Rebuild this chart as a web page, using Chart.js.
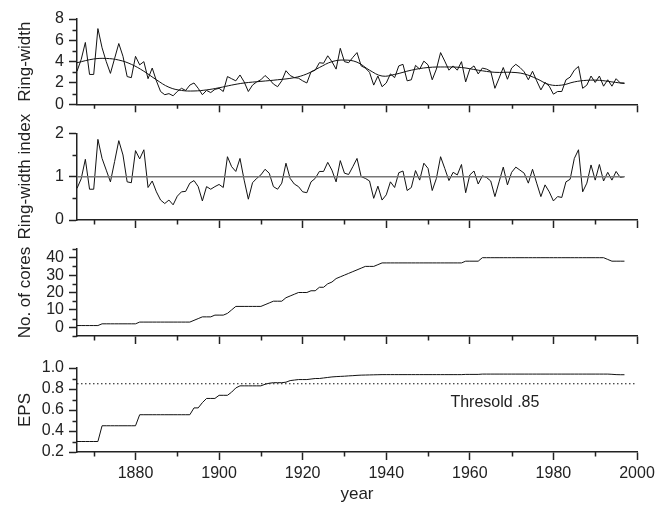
<!DOCTYPE html>
<html>
<head>
<meta charset="utf-8">
<script src="https://cdn.jsdelivr.net/npm/chart.js@4"></script>
<style>
  body { margin: 0; background: #fff; }
  #wrap { position: relative; width: 667px; height: 507px; }
  canvas { position: absolute; left: 0; top: 0; }
</style>
</head>
<body>
<div id="wrap">
  <canvas id="c1" width="667" height="507"></canvas>
  <canvas id="c2" width="667" height="507"></canvas>
  <canvas id="c3" width="667" height="507"></canvas>
  <canvas id="c4" width="667" height="507"></canvas>
</div>
<script>
const firstYear = 1866

// raw ring width, one value per year from 1866
const ringWidth = [
  3.1, 4.2, 5.8, 2.8, 2.8, 7.1, 5.3, 4.0, 2.9, 4.3,      // 1866-1875
  5.7, 4.5, 2.6, 2.5, 4.5, 3.7, 4.0, 2.4, 3.4, 2.2,      // 1876-1885
  1.2, 0.9, 1.0, 0.8, 1.2, 1.5, 1.3, 1.8, 2.0, 1.5,      // 1886-1895
  0.9, 1.3, 1.1, 1.4, 1.5, 1.2, 2.6, 2.4, 2.2, 2.75,     // 1896-1905
  2.1, 1.2, 1.8, 2.1, 2.3, 2.7, 2.35, 1.9, 1.65, 2.2,    // 1906-1915
  3.15, 2.7, 2.5, 2.45, 2.2, 2.0, 3.05, 3.2, 3.9, 3.85,  // 1916-1925
  4.55, 4.0, 3.3, 5.25, 4.0, 3.9, 4.4, 4.85, 3.6, 3.4,   // 1926-1935
  3.0, 1.8, 2.65, 1.65, 2.0, 2.85, 2.5, 3.6, 3.75, 2.2,  // 1936-1945
  2.3, 3.65, 3.3, 4.05, 3.7, 2.3, 3.3, 4.85, 4.05, 3.2,  // 1946-1955
  3.6, 3.2, 4.0, 2.1, 3.3, 3.6, 2.85, 3.4, 3.3, 3.1,     // 1956-1965
  1.5, 2.45, 3.45, 2.35, 3.4, 3.75, 3.45, 3.05, 2.3, 3.1, // 1966-1975
  2.2, 1.35, 2.05, 1.7, 0.95, 1.2, 1.2, 2.3, 2.55, 3.2,  // 1976-1985
  3.55, 1.5, 1.8, 2.65, 2.05, 2.65, 1.7, 2.3, 1.7, 2.4,  // 1986-1995
  2.0, 2.0                                               // 1996-1997
]

// fitted growth curve, read at a few years
const smoothYears = [1866, 1870, 1873, 1876, 1879, 1882, 1885, 1888, 1891, 1894, 1897, 1900,
  1903, 1906, 1910, 1914, 1918, 1921, 1924, 1927, 1930, 1933, 1936, 1939, 1942, 1946, 1950,
  1954, 1958, 1962, 1966, 1970, 1973, 1976, 1979, 1982, 1985, 1988, 1991, 1994, 1997]
const smoothValues = [3.9, 4.25, 4.3, 4.15, 3.75, 3.1, 2.3, 1.6, 1.3, 1.25, 1.35, 1.55,
  1.8, 2.0, 2.15, 2.3, 2.5, 2.85, 3.45, 4.0, 4.15, 3.95, 3.2, 2.65, 2.8, 3.2, 3.45,
  3.5, 3.45, 3.2, 3.0, 3.0, 2.85, 2.4, 1.85, 1.8, 2.1, 2.25, 2.25, 2.1, 1.95]

// ring-width index
const ringIndex = [
  0.73, 0.95, 1.4, 0.71, 0.71, 1.86, 1.42, 1.15, 0.88, 1.35,
  1.83, 1.5, 0.88, 0.86, 1.6, 1.41, 1.62, 0.75, 0.9, 0.65,
  0.46, 0.38, 0.46, 0.35, 0.55, 0.65, 0.66, 0.85, 0.91, 0.77,
  0.44, 0.77, 0.71, 0.77, 0.82, 0.75, 1.46, 1.23, 1.12, 1.42,
  0.92, 0.48, 0.86, 0.96, 1.04, 1.17, 1.08, 0.77, 0.71, 0.85,
  1.31, 0.96, 0.83, 0.77, 0.65, 0.63, 0.88, 0.96, 1.12, 1.12,
  1.33, 1.15, 0.88, 1.37, 1.08, 1.05, 1.23, 1.42, 1.0, 0.96,
  0.9, 0.5, 0.78, 0.46, 0.58, 0.88, 0.75, 1.09, 1.13, 0.68,
  0.75, 1.14, 0.92, 1.31, 1.19, 0.68, 0.96, 1.46, 1.19, 0.91,
  1.1, 1.04, 1.28, 0.63, 1.04, 1.13, 0.83, 1.02, 0.98, 0.9,
  0.54, 0.88, 1.22, 0.81, 1.1, 1.22, 1.15, 1.08, 0.85, 1.17,
  0.85, 0.54, 0.81, 0.65, 0.44, 0.54, 0.52, 0.88, 0.94, 1.42,
  1.62, 0.65, 0.85, 1.27, 0.92, 1.28, 0.9, 1.1, 0.92, 1.12,
  0.98, 1.0
]

// number of cores
const cores = [
  1, 1, 1, 1, 1, 1, 2, 2, 2, 2,
  2, 2, 2, 2, 2, 3, 3, 3, 3, 3,
  3, 3, 3, 3, 3, 3, 3, 3, 4, 5,
  6, 6, 6, 7, 7, 7, 8, 10, 12, 12,
  12, 12, 12, 12, 12, 13, 14, 15, 15, 15,
  17, 18, 19, 20, 20, 20, 21, 21, 23, 23,
  25, 26, 28, 29, 30, 31, 32, 33, 34, 35,
  35, 35, 36, 37, 37, 37, 37, 37, 37, 37,
  37, 37, 37, 37, 37, 37, 37, 37, 37, 37,
  37, 37, 37, 38, 38, 38, 38, 40, 40, 40,
  40, 40, 40, 40, 40, 40, 40, 40, 40, 40,
  40, 40, 40, 40, 40, 40, 40, 40, 40, 40,
  40, 40, 40, 40, 40, 40, 40, 39, 38, 38,
  38, 38
]

// expressed population signal
const eps = [
  0.30, 0.30, 0.30, 0.30, 0.30, 0.30, 0.45, 0.45, 0.45, 0.45,
  0.45, 0.45, 0.45, 0.45, 0.45, 0.555, 0.555, 0.555, 0.555, 0.555,
  0.555, 0.555, 0.555, 0.555, 0.555, 0.555, 0.555, 0.555, 0.62, 0.62,
  0.67, 0.71, 0.71, 0.71, 0.74, 0.74, 0.74, 0.77, 0.81, 0.83,
  0.83, 0.83, 0.83, 0.83, 0.83, 0.845, 0.855, 0.86, 0.86, 0.86,
  0.865, 0.88, 0.885, 0.89, 0.89, 0.89, 0.895, 0.90, 0.90, 0.905,
  0.91, 0.915, 0.918, 0.92, 0.922, 0.925, 0.927, 0.93, 0.932, 0.933,
  0.934, 0.935, 0.936, 0.937, 0.937, 0.937, 0.937, 0.937, 0.937, 0.937,
  0.937, 0.937, 0.937, 0.937, 0.937, 0.937, 0.937, 0.937, 0.937, 0.937,
  0.937, 0.937, 0.937, 0.939, 0.939, 0.939, 0.939, 0.942, 0.942, 0.942,
  0.942, 0.942, 0.942, 0.942, 0.942, 0.942, 0.942, 0.942, 0.942, 0.942,
  0.942, 0.942, 0.942, 0.942, 0.942, 0.942, 0.942, 0.942, 0.942, 0.942,
  0.942, 0.942, 0.942, 0.942, 0.942, 0.942, 0.942, 0.942, 0.94, 0.937,
  0.936, 0.936
]

const threshold = 0.85
const thresholdLabel = 'Thresold .85'

const xMajor = [1880, 1900, 1920, 1940, 1960, 1980, 2000]
const xMinor = [1870, 1890, 1910, 1930, 1950, 1970, 1990]

const years = ringWidth.map((v, i) => firstYear + i)
const lastYear = years[years.length - 1]

function pts (values) {
  return values.map((v, i) => ({ x: years[i], y: v }))
}

Chart.defaults.font.family = "'Liberation Sans', Arial, sans-serif"
Chart.defaults.color = '#222'

// short ticks between the labelled ones
const minorTicks = {
  id: 'minorTicks',
  afterDraw (chart, args, opts) {
    const ctx = chart.ctx
    const x = chart.scales.x
    const y = chart.scales.y
    ctx.save()
    ctx.strokeStyle = '#222'
    ctx.lineWidth = 1.5
    ctx.beginPath()
    for (let v of opts.x || []) {
      const px = Math.round(x.getPixelForValue(v)) + 0.5
      ctx.moveTo(px, x.top)
      ctx.lineTo(px, x.top + 4.5)
    }
    for (let v of opts.y || []) {
      const py = Math.round(y.getPixelForValue(v)) + 0.5
      ctx.moveTo(y.right, py)
      ctx.lineTo(y.right - 4.5, py)
    }
    ctx.stroke()
    if (opts.text) {
      ctx.fillStyle = '#222'
      ctx.font = "16px 'Liberation Sans', Arial, sans-serif"
      ctx.textAlign = 'center'
      ctx.textBaseline = 'middle'
      ctx.fillText(opts.text.label, x.getPixelForValue(opts.text.x), y.getPixelForValue(opts.text.y))
    }
    ctx.restore()
  }
}

function panel (id, p) {
  const xh = p.showX ? 55 : 10
  return new Chart(document.getElementById(id), {
    type: 'line',
    data: { datasets: p.datasets },
    options: {
      responsive: false,
      animation: false,
      events: [],
      layout: { padding: { top: p.top, left: 0, right: 30, bottom: 507 - p.bottom - xh } },
      elements: { point: { radius: 0 }, line: { borderWidth: 1, borderColor: '#111', tension: 0 } },
      plugins: {
        legend: { display: false },
        tooltip: { enabled: false },
        minorTicks: { x: xMinor, y: p.yMinor, text: p.text }
      },
      scales: {
        x: {
          type: 'linear',
          min: firstYear,
          max: 2000,
          afterBuildTicks: s => { s.ticks = xMajor.map(v => ({ value: v })) },
          afterFit: s => { s.height = xh },
          grid: { display: true, drawOnChartArea: false, tickLength: 8, tickColor: '#222', tickWidth: 1.5 },
          border: { display: true, color: '#222', width: 1.5 },
          ticks: { display: p.showX, autoSkip: false, maxRotation: 0, padding: 4, font: { size: 16 }, callback: v => String(v) },
          title: { display: p.showX, text: 'year', font: { size: 17 }, padding: { top: 0, bottom: 2 } }
        },
        y: {
          min: p.yMin,
          max: p.yMax,
          afterBuildTicks: s => { s.ticks = p.yMajor.map(v => ({ value: v })) },
          afterFit: s => { s.width = 77 },
          grid: { display: true, drawOnChartArea: false, tickLength: 8, tickColor: '#222', tickWidth: 1.5 },
          border: { display: true, color: '#222', width: 1.5 },
          ticks: { autoSkip: false, padding: 5, font: { size: 16 }, callback: p.fmt || (v => String(v)) },
          title: { display: true, text: p.title, font: { size: 17 }, padding: { top: 15, bottom: 0 } }
        }
      }
    },
    plugins: [minorTicks]
  })
}

panel('c1', {
  top: 19, bottom: 104.3, yMin: 0, yMax: 8,
  yMajor: [0, 2, 4, 6, 8], yMinor: [1, 3, 5, 7],
  title: 'Ring-width',
  datasets: [
    { data: pts(ringWidth) },
    { data: smoothYears.map((yr, i) => ({ x: yr, y: smoothValues[i] })), tension: 0.4 }
  ]
})

panel('c2', {
  top: 133.3, bottom: 220, yMin: 0, yMax: 2,
  yMajor: [0, 1, 2], yMinor: [0.5, 1.5],
  title: 'Ring-width index',
  datasets: [
    { data: [{ x: firstYear, y: 1 }, { x: lastYear, y: 1 }], borderColor: '#777', borderWidth: 1.5 },
    { data: pts(ringIndex) }
  ]
})

panel('c3', {
  top: 249, bottom: 336, yMin: -5, yMax: 45,
  yMajor: [0, 10, 20, 30, 40], yMinor: [-5, 5, 15, 25, 35, 45],
  title: 'No. of cores',
  datasets: [{ data: pts(cores) }]
})

panel('c4', {
  top: 368, bottom: 452, yMin: 0.2, yMax: 1.0, showX: true,
  yMajor: [0.2, 0.4, 0.6, 0.8, 1.0], yMinor: [0.3, 0.5, 0.7, 0.9],
  fmt: v => v.toFixed(1),
  title: 'EPS',
  text: { label: thresholdLabel, x: 1966, y: 0.67 },
  datasets: [
    { data: [{ x: firstYear, y: threshold }, { x: 2000, y: threshold }], borderDash: [1.5, 2.5], borderWidth: 1 },
    { data: pts(eps) }
  ]
})
</script>
</body>
</html>
